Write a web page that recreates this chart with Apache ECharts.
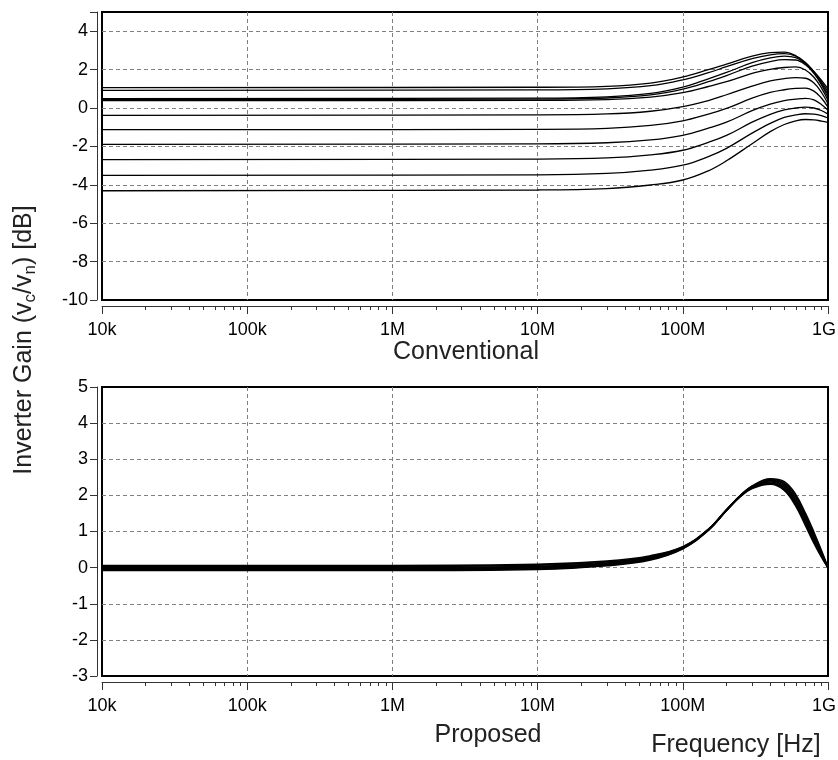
<!DOCTYPE html>
<html>
<head>
<meta charset="utf-8">
<script src="https://cdn.jsdelivr.net/npm/echarts@6/dist/echarts.min.js"></script>
<style>
  html, body { margin: 0; padding: 0; background: #fff; }
  #chart { width: 838px; height: 760px; }
</style>
</head>
<body>
<div id="chart"></div>
<script>
// x axis (Hz), shared by both panels
const decadeTicks = [1e4, 1e5, 1e6, 1e7, 1e8, 1e9];
const decadeLabels = ['10k', '100k', '1M', '10M', '100M', '1G'];

// Conventional: sample frequencies and one gain list per curve (dB)
const convFreq = [1e4, 1e7, 3e7, 6e7, 1e8, 1.5e8, 2e8, 3e8, 4e8, 5e8, 6e8, 7e8, 8e8, 9e8, 1e9];
const conventional = [
  [1.06, 1.08, 1.13, 1.30, 1.62, 2.00, 2.29, 2.70, 2.88, 2.91, 2.72, 2.36, 1.90, 1.45, 1.00],
  [0.92, 0.94, 1.00, 1.16, 1.47, 1.84, 2.15, 2.57, 2.77, 2.83, 2.70, 2.36, 1.88, 1.38, 0.85],
  [0.49, 0.51, 0.58, 0.76, 1.09, 1.52, 1.85, 2.36, 2.61, 2.70, 2.62, 2.32, 1.85, 1.30, 0.70],
  [0.44, 0.46, 0.52, 0.68, 0.98, 1.37, 1.69, 2.18, 2.42, 2.52, 2.50, 2.25, 1.80, 1.22, 0.55],
  [0.38, 0.40, 0.44, 0.57, 0.80, 1.12, 1.37, 1.80, 2.01, 2.11, 2.14, 1.98, 1.60, 1.05, 0.40],
  [-0.38, -0.36, -0.31, -0.17, 0.07, 0.39, 0.69, 1.14, 1.41, 1.53, 1.58, 1.55, 1.30, 0.82, 0.22],
  [-1.13, -1.11, -1.06, -0.91, -0.67, -0.32, -0.02, 0.51, 0.81, 0.95, 1.02, 1.04, 0.88, 0.52, 0.05],
  [-1.89, -1.87, -1.81, -1.66, -1.42, -1.05, -0.74, -0.14, 0.20, 0.38, 0.46, 0.50, 0.42, 0.18, -0.12],
  [-2.69, -2.66, -2.60, -2.44, -2.20, -1.79, -1.43, -0.74, -0.33, -0.10, 0.00, 0.05, 0.00, -0.13, -0.32],
  [-3.51, -3.48, -3.41, -3.24, -2.98, -2.53, -2.10, -1.31, -0.80, -0.49, -0.36, -0.30, -0.32, -0.40, -0.52],
  [-4.31, -4.27, -4.20, -4.01, -3.75, -3.27, -2.75, -1.86, -1.23, -0.86, -0.67, -0.60, -0.62, -0.68, -0.75]
];

// Proposed: curves almost on top of each other (dB)
const propFreq = [1e4, 1e6, 1e7, 3e7, 6e7, 1e8, 1.5e8, 2e8, 2.5e8, 3e8, 4e8, 5e8, 6e8, 7e8, 8e8, 9e8, 1e9];
const proposed = [
  [0.06, 0.06, 0.09, 0.18, 0.33, 0.58, 1.06, 1.60, 2.00, 2.26, 2.46, 2.38, 2.02, 1.50, 0.98, 0.48, 0.0],
  [0.035, 0.035, 0.065, 0.155, 0.31, 0.57, 1.06, 1.60, 2.00, 2.25, 2.44, 2.34, 1.97, 1.44, 0.92, 0.44, 0.0],
  [0.01, 0.01, 0.04, 0.13, 0.29, 0.56, 1.05, 1.60, 2.00, 2.24, 2.42, 2.30, 1.91, 1.38, 0.86, 0.41, 0.0],
  [-0.015, -0.015, 0.015, 0.11, 0.27, 0.55, 1.05, 1.59, 1.99, 2.23, 2.40, 2.26, 1.85, 1.32, 0.81, 0.38, 0.0],
  [-0.04, -0.04, -0.01, 0.09, 0.25, 0.54, 1.04, 1.59, 1.99, 2.22, 2.37, 2.22, 1.80, 1.26, 0.76, 0.35, 0.0],
  [-0.06, -0.06, -0.03, 0.07, 0.23, 0.53, 1.04, 1.58, 1.98, 2.21, 2.34, 2.18, 1.75, 1.21, 0.72, 0.32, 0.0],
  [-0.08, -0.08, -0.05, 0.05, 0.21, 0.52, 1.03, 1.58, 1.97, 2.19, 2.31, 2.14, 1.70, 1.16, 0.68, 0.30, 0.0]
];

const FONT = 'Liberation Sans, Arial, sans-serif';

// minor tick positions 2..9 x decade
const minorTicks = [];
decadeTicks.slice(0, -1).forEach(d => {
  for (let k = 2; k <= 9; k++) minorTicks.push(d * k);
});

const dashed = {
  show: true, showMinLine: false, showMaxLine: false,
  lineStyle: { color: '#808080', type: [4, 3], width: 1 }
};

function freqAxis(grid) {
  return {
    type: 'log', logBase: 10, gridIndex: grid, min: 1e4, max: 1e9,
    position: 'bottom', offset: 6,
    axisLine: { show: true, onZero: false, lineStyle: { color: '#333', width: 1 } },
    axisTick: { show: true, length: 8, lineStyle: { color: '#333' } },
    axisLabel: {
      margin: 15, fontSize: 18, color: '#000', fontFamily: FONT,
      formatter: v => {
        const i = Math.round(Math.log10(v)) - 4;
        // last label sits a little left so it stays inside the page
        return i === decadeLabels.length - 1 ? '{end|' + decadeLabels[i] + '}' : decadeLabels[i];
      },
      rich: { end: { fontSize: 18, color: '#000', fontFamily: FONT, padding: [0, 8, 0, 0] } }
    },
    splitLine: dashed
  };
}
function minorAxis(grid) {
  return {
    type: 'log', logBase: 10, gridIndex: grid, min: 1e4, max: 1e9,
    position: 'bottom', offset: 6,
    axisLine: { show: false, onZero: false },
    axisTick: { show: true, length: 4, customValues: minorTicks, lineStyle: { color: '#333' } },
    axisLabel: { show: false },
    splitLine: { show: false }
  };
}
function gainAxis(grid, min, max, step) {
  return {
    type: 'value', gridIndex: grid, min: min, max: max, interval: step,
    position: 'left', offset: 5,
    axisLine: { show: true, onZero: false, lineStyle: { color: '#333', width: 1 } },
    axisTick: { show: true, length: 7, lineStyle: { color: '#333' } },
    axisLabel: {
      margin: 9, fontSize: 18, color: '#000', fontFamily: FONT,
      formatter: v => (v === max && (max - min) % step !== 0) ? '' : String(v)
    },
    splitLine: dashed
  };
}

const lineSeries = (freqs, rows, xi, yi, width) => rows.map(vals => ({
  type: 'line', xAxisIndex: xi, yAxisIndex: yi,
  symbol: 'none', smooth: 0.4, silent: true,
  lineStyle: { color: '#000', width: width },
  data: freqs.map((f, i) => [f, vals[i]])
}));

const titleStyle = (text) => ({
  text: text, fontSize: 25, fontFamily: FONT, fill: '#222', align: 'center', verticalAlign: 'middle'
});

const chart = echarts.init(document.getElementById('chart'));
chart.setOption({
  animation: false,
  backgroundColor: '#fff',
  grid: [
    { left: 102, right: 10, top: 12, height: 288, outerBoundsMode: 'none', containLabel: false,
      show: true, borderColor: '#000', borderWidth: 2 },
    { left: 102, right: 10, top: 387, height: 289, outerBoundsMode: 'none', containLabel: false,
      show: true, borderColor: '#000', borderWidth: 2 }
  ],
  xAxis: [freqAxis(0), minorAxis(0), freqAxis(1), minorAxis(1)],
  yAxis: [gainAxis(0, -10, 5, 2), gainAxis(1, -3, 5, 1)],
  series: [
    ...lineSeries(convFreq, conventional, 0, 0, 1.3),
    ...lineSeries(propFreq, proposed, 2, 1, 1.6)
  ],
  graphic: [
    {
      type: 'text', x: 24, y: 340, rotation: Math.PI / 2,
      style: {
        text: 'Inverter Gain (v{s|c}/v{s|n}) [dB]',
        fontSize: 25, fontFamily: FONT, fill: '#222', lineHeight: 30,
        align: 'center', verticalAlign: 'middle',
        rich: { s: { fontSize: 17, fontFamily: FONT, fill: '#222', verticalAlign: 'bottom', lineHeight: 30 } }
      }
    },
    { type: 'text', x: 466, y: 352, style: titleStyle('Conventional') },
    { type: 'text', x: 488, y: 735, style: titleStyle('Proposed') },
    { type: 'text', x: 736, y: 745, style: titleStyle('Frequency [Hz]') }
  ]
});
</script>
</body>
</html>
